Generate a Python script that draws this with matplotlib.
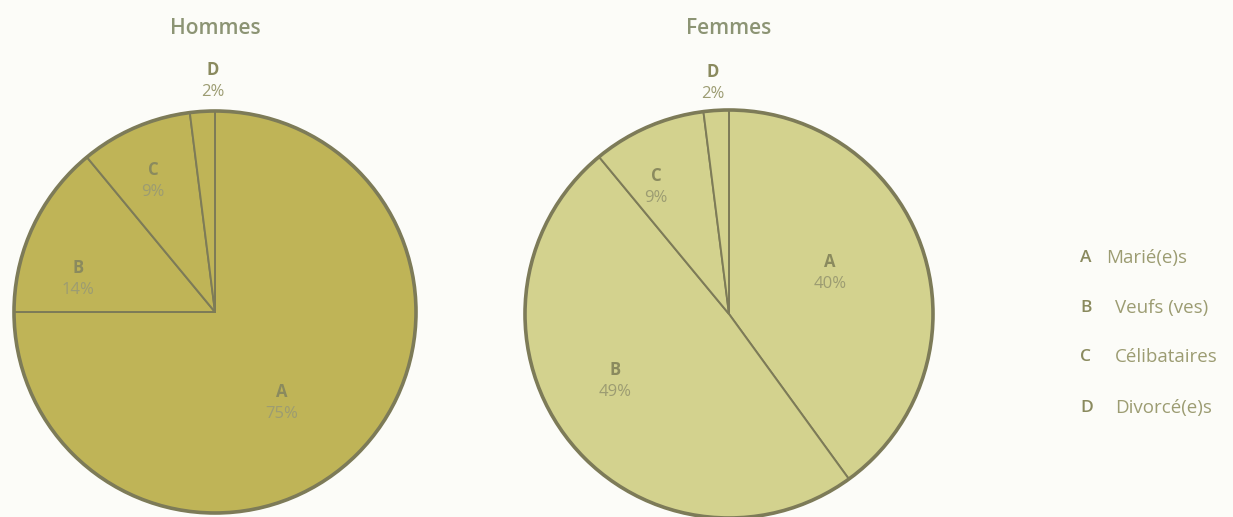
import matplotlib.pyplot as plt
from matplotlib.patches import Circle

# data
letters = ['A', 'B', 'C', 'D']
hommes = [75, 14, 9, 2]
femmes = [40, 49, 9, 2]
legend_labels = ['Marié(e)s', 'Veufs (ves)', 'Célibataires', 'Divorcé(e)s']

W, H = 1233, 517
fig = plt.figure(figsize=(W / 100, H / 100), dpi=100)
fig.patch.set_facecolor('#fcfcf8')
ax = fig.add_axes([0, 0, 1, 1])
ax.axis('off')

edge = '#7d7b58'
txt_bold = '#8a8a5e'
txt_light = '#9c9c72'
plt.rcParams['font.family'] = ['Open Sans', 'DejaVu Sans']


def draw_pie(values, title, cx, cy, r, color, label_pos):
    y = H - cy
    ax.pie(values, colors=[color] * len(values), startangle=90, counterclock=False,
           center=(cx, y), radius=r, frame=True,
           wedgeprops=dict(edgecolor=edge, linewidth=1.4))
    ax.add_patch(Circle((cx, y), r, fill=False, edgecolor=edge, linewidth=2.6))
    ax.text(cx, H - 28, title, ha='center', va='center', fontsize=15,
            fontweight='semibold', color='#8c9474')
    for let, v, (lx, ly) in zip(letters, values, label_pos):
        ax.text(lx, H - ly, let, ha='center', va='center', fontsize=12,
                fontweight='bold', color=txt_bold)
        ax.text(lx, H - ly - 22, f'{v}%', ha='center', va='center', fontsize=12,
                color=txt_light)


draw_pie(hommes, 'Hommes', 215, 312, 201, '#bfb457',
         [(282, 392), (78, 268), (153, 170), (213, 70)])
draw_pie(femmes, 'Femmes', 729, 314, 204, '#d3d28e',
         [(830, 262), (615, 370), (656, 176), (713, 72)])

ax.set_xlim(0, W)
ax.set_ylim(0, H)
ax.set_aspect('auto')

leg_y = [258, 308, 357, 408]
leg_x = [1106, 1115, 1115, 1115]
for let, lab, ly, lx in zip(letters, legend_labels, leg_y, leg_x):
    ax.text(1080, H - ly, let, ha='left', va='center', fontsize=12.5,
            fontweight='semibold', color=txt_bold)
    ax.text(lx, H - ly, lab, ha='left', va='center', fontsize=13.5,
            color=txt_light)

fig.savefig('out.png', dpi=100, facecolor=fig.get_facecolor())
